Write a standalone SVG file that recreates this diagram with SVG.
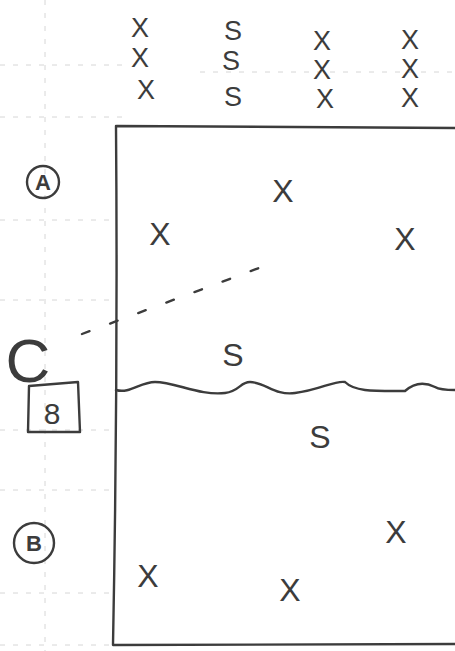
<svg xmlns="http://www.w3.org/2000/svg" width="455" height="651" viewBox="0 0 455 651">
<style>
.ink{fill:none;stroke:#3c3c3c;stroke-width:2.4;stroke-linecap:round;stroke-linejoin:round}
.grid{fill:none;stroke:#d6d6d6;stroke-width:1;stroke-dasharray:5 8}
.t{font-family:"Liberation Sans",Arial,sans-serif;fill:#3c3c3c;text-anchor:middle}
.m{font-size:32px}
.s{font-size:27px}
.lbl{font-size:22px;font-weight:bold}
</style>
<rect width="455" height="651" fill="#fff"/>
<g id="grid">
<line class="grid" x1="45" y1="0" x2="45" y2="651"/>
<line class="grid" x1="0" y1="65" x2="130" y2="65"/>
<line class="grid" x1="200" y1="72" x2="455" y2="72"/>
<line class="grid" x1="0" y1="117" x2="130" y2="117"/>
<line class="grid" x1="0" y1="220" x2="115" y2="220"/>
<line class="grid" x1="0" y1="300" x2="115" y2="300"/>
<line class="grid" x1="0" y1="430" x2="115" y2="430"/>
<line class="grid" x1="0" y1="490" x2="115" y2="490"/>
<line class="grid" x1="0" y1="593" x2="115" y2="593"/>
<line class="grid" x1="0" y1="645" x2="115" y2="645"/>
</g>
<g id="frame">
<path class="ink" d="M116 126 Q118 380 113 645 L455 644 M117 126 L455 128"/>
<path class="ink" d="M116 390 C130 394 140 382 155 382 C175 382 200 396 225 393 C240 391 240 382 250 382 C265 382 275 396 295 393 C320 390 335 380 345 382 C355 392 375 391 405 391 C415 382 425 382 435 387 C440 390 450 390 455 390"/>
</g>
<g id="legend">
<text class="t s" x="140" y="37">X</text>
<text class="t s" x="140" y="67">X</text>
<text class="t s" x="146" y="99">X</text>
<text class="t s" x="233" y="40">S</text>
<text class="t s" x="231" y="70">S</text>
<text class="t s" x="233" y="106">S</text>
<text class="t s" x="322" y="50">X</text>
<text class="t s" x="322" y="79">X</text>
<text class="t s" x="325" y="108">X</text>
<text class="t s" x="410" y="49">X</text>
<text class="t s" x="410" y="78">X</text>
<text class="t s" x="410" y="107">X</text>
</g>
<g id="nodeA">
<circle class="ink" cx="43" cy="182" r="16"/>
<text class="t lbl" x="43" y="190">A</text>
</g>
<g id="nodeB">
<circle class="ink" cx="34" cy="543" r="20"/>
<text class="t lbl" x="34" y="551">B</text>
</g>
<g id="nodeC">
<text class="t" x="28" y="382" font-size="62">C</text>
<path class="ink" d="M29 386 L78 382 L80 432 L28 432 Z"/>
<text class="t" x="52" y="424" font-size="30">8</text>
</g>
<g id="connectors">
<path class="ink" stroke-dasharray="8 22" d="M82 334 L275 262"/>
</g>
<g id="marks">
<text class="t m" x="283" y="202">X</text>
<text class="t m" x="160" y="245">X</text>
<text class="t m" x="405" y="250">X</text>
<text class="t m" x="233" y="366">S</text>
<text class="t m" x="320" y="448">S</text>
<text class="t m" x="396" y="543">X</text>
<text class="t m" x="148" y="587">X</text>
<text class="t m" x="290" y="601">X</text>
</g>
</svg>
